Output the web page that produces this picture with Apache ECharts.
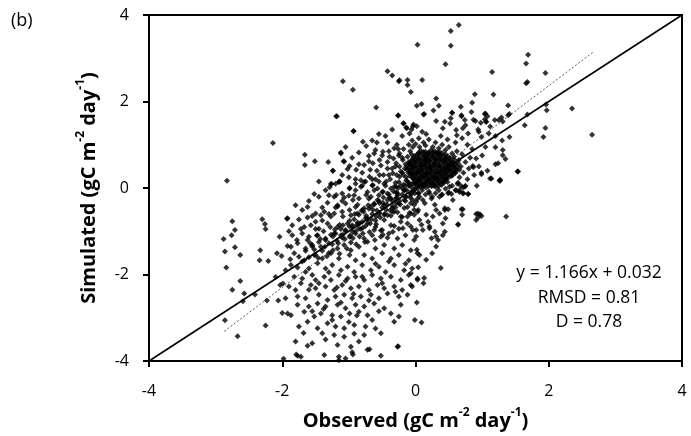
<!DOCTYPE html>
<html>
<head>
<meta charset="utf-8">
<script src="https://cdn.jsdelivr.net/npm/echarts@6/dist/echarts.min.js"></script>
<style>html,body{margin:0;padding:0;background:#fff;}#c{width:691px;height:436px;}</style>
</head>
<body>
<div id="c"></div>
<script>
// ---- axis ticks ----
var xTicks = [-4, -2, 0, 2, 4];
var yTicks = [-4, -2, 0, 2, 4];

// ---- reference lines ----
var oneToOne = [[-4, -4], [4, 4]];
var fitLine = [[-2.87, -3.314], [2.66, 3.134]];
var statsText = ['y = 1.166x + 0.032', 'RMSD = 0.81', 'D = 0.78'];

// ---- observed vs simulated points ----
var outliersTop = [
[-2.14,1.04],[-1.66,0.77],[-1.66,0.53],[-1.51,0.62],[-1.31,0.60],[-1.24,0.40],[-1.12,0.80],[-1.08,0.62],
[-1.18,1.66],[-1.09,2.47],[-0.94,2.27],[-0.93,1.31],[-0.59,1.86],[-0.42,2.70],[-0.35,2.60],[-0.25,2.47],
[-0.12,2.50],[-0.07,2.22],[-0.26,1.67],[0.02,1.90],[0.03,3.31],[-1.26,0.09],[-1.14,0.15],[-1.02,0.44],
[-0.18,1.50],[-0.14,1.40],[-0.06,1.35],[-0.03,1.47],[0.65,3.77],[0.53,3.63],[0.53,3.29],[0.45,2.86],
[0.10,2.50],[1.69,3.08],[1.66,2.88],[1.95,2.66],[1.68,2.45],[1.66,2.42],[1.15,2.68],[1.17,2.16],
[0.89,2.17],[1.39,1.91],[1.39,1.68],[1.68,1.70],[1.96,1.93],[1.97,1.80],[1.64,1.45],[1.95,1.39],
[1.92,1.18],[0.31,2.07],[0.35,1.90],[0.09,1.94],[0.12,1.70],[0.27,1.79],[0.44,1.53],[0.53,1.61],
[0.68,1.88],[0.85,1.97],[0.55,1.74],[0.69,1.68],[1.05,1.72],[1.08,1.66],[1.04,1.59],[0.98,1.51],
[1.06,1.53],[1.19,1.57],[1.25,1.57],[1.31,1.54],[1.31,0.76],[1.35,0.67],[1.53,0.38],[1.20,0.55],
[1.12,0.22],[1.27,0.19],[0.99,0.32],[0.87,0.48],[2.65,1.23],[2.35,1.84],[-0.24,2.49],[-0.12,2.38]
];
var outliersLeft = [
[-2.83,0.17],[-2.75,-0.77],[-2.71,-0.97],[-2.76,-1.09],[-2.88,-1.18],[-2.86,-1.47],[-2.71,-1.37],
[-2.63,-1.55],[-2.84,-1.84],[-2.63,-2.15],[-2.75,-2.35],[-2.57,-2.44],[-2.59,-2.62],[-2.41,-2.46],
[-2.86,-3.06],[-2.67,-3.43],[-2.30,-0.72],[-2.26,-0.83],[-2.25,-0.95],[-2.33,-1.44],[-2.34,-1.67],
[-2.21,-1.69],[-2.08,-1.51],[-2.01,-1.57],[-2.04,-1.13],[-1.93,-0.71],[-2.10,-2.06],[-2.03,-2.24],
[-1.99,-2.21],[-2.23,-2.60],[-2.06,-2.60],[-2.00,-2.89],[-2.25,-3.18],[-1.98,-3.95]
];
var lowerCloud = [
[-1.27,0.09],[-1.15,0.14],[-0.99,-0.01],[-0.9,0.10],[-0.82,0.03],[-0.77,0.14],[-0.72,-0.09],[-0.65,0.06],
[-0.57,-0.01],[-0.47,0.10],[-0.42,-0.13],[-0.32,0.03],[-0.25,0.14],[-0.17,-0.05],[-0.1,0.06],[-0.02,0.10],
[0.03,-0.01],[-1.52,-0.14],[-1.45,-0.20],[-1.3,-0.17],[-1.1,-0.13],[-0.92,-0.17],[-0.85,-0.24],[-0.67,-0.20],
[-0.55,-0.17],[-0.37,-0.24],[-0.27,-0.17],[-0.15,-0.20],[-0.07,-0.13],[-1.22,-0.20],
[-1.32,-0.34],[-1.17,-0.40],[-1.05,-0.36],[-0.9,-0.44],[-0.77,-0.47],[-0.62,-0.36],[-0.47,-0.40],[-0.35,-0.47],
[-0.25,-0.36],[-0.12,-0.44],[0.01,-0.32],[-1.7,-0.51],[-1.62,-0.44],[-1.5,-0.59],[-1.42,-0.63],[-1.37,-0.55],
[-1.22,-0.59],[-1.1,-0.55],[-0.97,-0.63],[-0.87,-0.59],[-0.75,-0.70],[-0.55,-0.59],[-0.42,-0.63],[-0.32,-0.55],
[-0.2,-0.67],[-0.07,-0.59],[0.03,-0.55],[-1.92,-0.70],[-1.75,-0.73],[-1.62,-0.68],[-1.5,-0.78],
[-1.85,-0.86],[-1.67,-0.90],[-1.57,-0.86],[-1.45,-0.94],[-1.32,-0.82],[-1.17,-0.90],[-1.05,-0.97],[-0.95,-0.86],
[-0.85,-0.94],[-0.72,-0.82],[-0.6,-0.90],[-0.5,-0.97],[-0.37,-0.86],[-0.25,-0.94],[-0.12,-0.82],[0.01,-0.97],
[-1.85,-1.09],[-1.7,-1.05],[-1.6,-1.13],[-1.47,-1.09],[-1.35,-1.17],[-1.22,-1.05],[-1.12,-1.09],[-0.99,-1.13],
[-0.9,-1.05],[-0.77,-1.17],[-0.65,-1.09],[-0.52,-1.13],[-0.4,-1.05],[-0.27,-1.17],[-0.15,-1.09],[-0.02,-1.20],
[-1.92,-1.34],[-1.87,-1.36],[-1.77,-1.28],[-1.65,-1.40],[-1.55,-1.32],[-1.42,-1.36],[-1.3,-1.28],[-1.17,-1.40],
[-1.07,-1.32],[-0.97,-1.44],[-0.85,-1.36],[-0.72,-1.24],[-0.6,-1.40],[-0.47,-1.32],[-0.32,-1.40],[-0.2,-1.32],
[-0.07,-1.44],[-1.82,-1.51],[-1.75,-1.59],[-1.67,-1.67],[-1.52,-1.55],[-1.4,-1.63],[-1.27,-1.51],[-1.15,-1.63],
[-0.99,-1.55],[-0.9,-1.67],[-0.77,-1.55],[-0.65,-1.63],[-0.5,-1.51],[-0.37,-1.63],[-0.25,-1.55],[-0.1,-1.67],
[0.03,-1.51],[-1.95,-1.90],[-1.87,-1.78],[-1.77,-1.84],[-1.65,-1.94],[-1.6,-1.86],[-1.47,-1.74],[-1.35,-1.86],
[-1.25,-1.78],[-1.12,-1.90],[-1.02,-1.82],[-0.92,-1.94],[-0.8,-1.78],[-0.67,-1.90],[-0.55,-1.82],[-0.45,-1.94],
[-0.32,-1.78],[-0.17,-1.90],[-0.05,-1.86],[-1.82,-2.05],[-1.7,-2.09],[-1.55,-2.01],[-1.5,-2.13],[-1.37,-2.05],
[-1.27,-2.13],[-1.15,-2.01],[-1.02,-2.09],[-0.9,-2.05],[-0.77,-2.13],[-0.65,-2.01],[-0.52,-2.09],[-0.37,-2.05],
[-0.22,-2.13],[-0.1,-2.01],[0.03,-2.09],[-1.9,-2.28],[-1.8,-2.36],[-1.57,-2.24],[-1.5,-2.32],[-1.35,-2.28],
[-1.22,-2.36],[-1.1,-2.24],[-0.97,-2.32],[-0.85,-2.28],[-0.7,-2.36],[-0.57,-2.24],[-0.47,-2.32],[-0.32,-2.28],
[-0.2,-2.36],[-0.07,-2.24],[-1.77,-2.51],[-1.65,-2.55],[-1.45,-2.47],[-1.32,-2.59],[-1.2,-2.51],[-1.07,-2.47],
[-0.95,-2.55],[-0.82,-2.51],[-0.67,-2.47],[-0.55,-2.55],[-0.42,-2.44],[-0.25,-2.51],[-0.12,-2.47],
[-1.77,-2.70],[-1.6,-2.74],[-1.47,-2.67],[-1.35,-2.74],[-1.17,-2.70],[-1.05,-2.78],[-0.9,-2.70],[-0.77,-2.74],
[-0.62,-2.67],[-0.47,-2.78],[-0.22,-2.70],[-1.92,-2.90],[-1.87,-2.94],[-1.67,-2.86],[-1.52,-2.97],[-1.42,-2.90],
[-1.25,-2.94],[-1.12,-2.97],[-0.99,-2.90],[-0.85,-2.86],[-0.72,-2.94],[-0.37,-2.90],[-0.25,-2.97],
[-1.75,-3.20],[-1.62,-3.09],[-1.47,-3.24],[-1.32,-3.13],[-1.2,-3.20],[-1.07,-3.24],[-0.92,-3.17],[-0.75,-3.20],
[-0.32,-3.09],[-1.4,-3.36],[-1.22,-3.40],[-1.07,-3.44],[-0.92,-3.37],[-0.77,-3.40],[-0.52,-3.36],
[-1.8,-3.55],[-1.62,-3.65],[-1.55,-3.59],[-1.17,-3.63],[-0.97,-3.67],[-0.72,-3.74],[-0.27,-3.67],
[-1.77,-3.88],[-1.72,-3.90],[-1.37,-3.86],[-1.15,-3.90],[-1.05,-3.94],[-0.95,-3.80],[-0.52,-3.88],[-1.15,-3.98],
[-1.79,-3.85],[-0.94,-3.85],[-0.69,-3.73],[-0.26,-3.66]
];
var lowerFill = [
[-1.45,-2.2],[-1.3,-1.95],[-1.18,-2.3],[-1.05,-2.15],[-0.93,-2.45],[-0.8,-2.05],[-0.7,-2.6],[-0.6,-1.75],
[-0.5,-2.2],[-0.4,-1.7],[-0.3,-2.4],[-0.15,-1.75],[-1.38,-2.8],[-1.25,-3.05],[-1.12,-2.65],[-1.0,-3.1],
[-0.88,-2.95],[-0.65,-3.05],[-0.55,-2.85],[-1.6,-2.35],[-1.72,-2.2],[-1.55,-2.85],[-1.68,-3.35],[-1.35,-3.5],
[-0.85,-3.55],[-0.6,-3.25],[-1.95,-2.55],[-1.88,-1.65],[-1.78,-1.2],[-1.62,-1.2],[-1.72,-0.95],[-1.55,-0.65],
[-1.4,-0.45],[-1.6,-0.3],[-1.35,-0.05],[-1.45,0.15],[-1.8,-0.4],[-1.9,-1.0]
];
var diagonalBand = [
[-1.25,-1.3],[-1.2,-1.05],[-1.18,-1.22],[-1.12,-0.95],[-1.1,-1.15],[-1.05,-1.0],[-1.02,-0.82],[-0.98,-1.1],
[-0.95,-0.9],[-0.92,-0.72],[-0.9,-1.0],[-0.88,-0.85],[-0.85,-0.62],[-0.82,-0.95],[-0.8,-0.78],[-0.78,-0.55],
[-0.75,-0.88],[-0.72,-0.7],[-0.7,-0.48],[-0.68,-0.82],[-0.65,-0.6],[-0.62,-0.38],[-0.6,-0.75],[-0.58,-0.52],
[-0.55,-0.3],[-0.53,-0.68],[-0.5,-0.45],[-0.48,-0.22],[-0.46,-0.6],[-0.43,-0.38],[-0.4,-0.15],[-0.38,-0.52],
[-0.35,-0.3],[-0.33,-0.08],[-0.3,-0.45],[-0.28,-0.22],[-0.26,0.0],[-0.23,-0.38],[-0.2,-0.15],[-0.18,0.08],
[-0.15,-0.3],[-0.13,-0.05],[-0.1,0.12],[-0.08,-0.22],[-0.06,0.02],[-0.03,0.2],[-0.01,-0.12],[0.02,0.08],
[-1.35,-1.2],[-1.4,-1.45],[-1.3,-1.5],[-1.45,-1.25],[-1.5,-1.55],[-1.55,-1.35],[-1.6,-1.6],[-1.65,-1.45],
[-1.7,-1.7],[-1.38,-1.0],[-1.28,-0.9],[-1.48,-1.1],
[-1.19,-0.16],[-1.07,-0.22],[-0.94,-0.28],[-1.17,-0.43],[-1.27,-0.66],[-1.09,-0.66],[-0.99,-0.51],[-0.87,-0.39],
[-0.74,-0.16],[-0.62,-0.05],[-0.49,-0.08],[-0.37,-0.01],[-0.27,-0.12],[-0.17,-0.05],[-0.07,-0.16],[0.04,-0.12],
[-0.79,-0.51],[-0.67,-0.43],[-0.54,-0.35],[-0.42,-0.28],[-0.29,-0.35],[-0.17,-0.28],[-0.02,-0.39],[0.11,-0.28],
[0.24,-0.24],[0.36,-0.20],[0.49,-0.12],[0.61,-0.05],[0.74,0.03],[-1.14,-0.85],[-0.99,-0.89],[-0.84,-0.82],
[-0.72,-0.74],[-0.59,-0.66],[-0.47,-0.62],[-0.34,-0.55],[-0.22,-0.66],[-0.09,-0.58],[0.04,-0.51],[0.16,-0.62],
[0.31,-0.51],[0.44,-0.47],[-1.24,-1.12],[-1.09,-1.08],[-0.94,-1.16],[-0.79,-1.05],[-0.62,-0.97],[-0.49,-1.08],
[-0.34,-1.01],[-0.19,-0.93],[-0.04,-0.97],[0.09,-0.85],[0.21,-0.93],[0.44,-1.01],[0.31,-1.12],[0.71,-0.49],
[0.91,-0.60],[0.99,-0.65],[1.36,-0.66],[0.64,-0.85],[0.91,-0.74]
];
var bandFill = [
[-1.58,-1.28],[-1.52,-1.42],[-1.46,-1.62],[-1.43,-1.18],[-1.36,-1.36],[-1.33,-1.58],[-1.27,-1.08],[-1.24,-1.44],
[-1.21,-0.96],[-1.16,-1.28],[-1.14,-1.52],[-1.09,-0.86],[-1.06,-1.18],[-1.03,-1.4],[-0.99,-0.76],[-0.97,-1.26],
[-0.94,-1.02],[-0.91,-0.6],[-0.89,-1.3],[-0.87,-0.8],[-0.84,-1.12],[-0.81,-0.52],[-0.79,-0.92],[-0.76,-1.25],
[-0.74,-0.64],[-0.71,-0.4],[-0.69,-1.02],[-0.66,-0.72],[-0.64,-0.5],[-0.61,-1.2],[-0.59,-0.84],[-0.57,-0.28],
[-0.54,-0.58],[-0.52,-0.98],[-0.49,-0.34],[-0.47,-0.74],[-0.44,-0.5],[-0.42,-1.15],[-0.39,-0.22],[-0.37,-0.64],
[-0.34,-0.42],[-0.32,-0.88],[-0.29,-0.1],[-0.27,-0.56],[-0.24,-0.3],[-0.22,-0.78],[-0.19,-0.02],[-0.17,-0.46],
[-0.14,-0.2],[-0.12,-0.66],[-0.09,0.06],[-0.07,-0.35],[-0.04,-0.08],[-0.02,-0.5],[0.01,0.02],[0.03,-0.25],
[-1.5,-0.95],[-1.4,-0.75],[-1.3,-0.6],[-1.2,-0.45],[-1.1,-0.3],[-1.0,-0.18],[-0.9,-0.05],[-0.8,0.05],
[-0.7,-0.25],[-0.6,0.2],[-0.5,-0.1],[-0.4,0.3],[-0.3,-0.25],[-0.2,0.35],[-0.15,0.05]
];
var upperLeft = [
[-1.19,1.66],[-0.26,1.68],[0.13,1.71],[0.55,1.74],[0.69,1.66],[0.74,1.57],[0.84,1.76],[0.87,1.58],[1.04,1.71],
[1.06,1.53],[1.29,1.63],[1.41,1.71],[-0.18,1.49],[-0.13,1.38],[-0.04,1.42],[0.02,1.43],[-0.09,1.26],[0.16,1.25],
[0.31,1.55],[0.41,1.38],[0.52,1.49],[0.61,1.34],[0.71,1.38],[0.79,1.26],[0.94,1.35],[0.99,1.18],[1.1,1.26],
[1.2,0.94],[1.31,0.88],[1.41,1.18],[1.24,0.57],[0.99,0.35],[1.14,0.22],[1.27,0.17],[1.54,0.38],[0.86,0.51],[0.91,0.68],
[-0.93,1.32],[-0.79,1.07],[-0.74,0.97],[-0.58,1.05],[-0.42,1.05],[-0.49,0.84],[-0.62,0.80],[-0.70,0.74],
[-0.85,0.82],[-1.12,0.82],[-1.07,0.61],[-0.99,0.51],[-1.24,0.40],[-0.89,0.42],[-0.77,0.53],[-0.64,0.57],
[-0.54,0.65],[-0.39,0.72],[-0.32,0.92],[-0.24,0.80],[-0.29,0.57],[-0.19,0.65],[-0.42,0.45],[-0.34,0.34],
[-0.54,0.30],[-0.69,0.26],[-0.82,0.18],[-1.14,0.15],[-1.29,0.02],[-0.99,0.0],[-0.64,0.07],[-0.44,0.15],
[-0.24,0.26],[-0.14,0.18],[-0.29,0.03],
[-0.9,0.2],[-0.85,0.55],[-0.8,0.35],[-0.75,0.15],[-0.7,0.62],[-0.68,0.42],[-0.65,0.2],[-0.6,0.88],[-0.58,0.4],
[-0.55,0.15],[-0.52,0.52],[-0.5,0.75],[-0.48,0.3],[-0.45,0.05],[-0.42,0.6],[-0.4,0.85],[-0.38,0.2],[-0.35,0.45],
[-0.33,0.68],[-0.3,0.12],[-0.28,0.3],[-0.26,0.9],[-0.24,0.5],[-0.22,0.05],[-0.2,0.7],[-0.18,0.3],[-0.16,0.45],
[-0.12,0.15],[-0.1,0.6],[-0.08,0.35],[-0.06,0.78],[-0.04,0.5],[-1.0,0.25],[-1.1,0.3],[-1.2,0.1],[-0.95,0.7],
[-1.05,0.95],[-0.65,1.1],[-0.55,1.25],[-0.45,1.2],[-0.35,1.35]
];
var coreHalo = [
[-0.3,0.5],[-0.25,0.75],[-0.22,0.38],[-0.18,0.9],[-0.15,0.55],[-0.14,0.25],[-0.12,0.72],[-0.1,1.0],[-0.08,0.85],
[-0.05,1.1],[-0.04,0.95],[0.0,1.02],[0.05,1.15],[0.06,0.95],[0.12,1.05],[0.15,0.98],[0.2,1.12],[0.26,0.95],
[0.3,1.05],[0.35,0.92],[0.4,1.0],[0.45,0.88],[0.5,0.95],[0.55,0.8],[0.58,0.72],[0.62,0.85],[0.65,0.65],
[0.68,0.5],[0.7,0.78],[0.72,0.35],[0.75,0.6],[0.78,0.2],[0.66,0.25],[0.63,0.1],[0.6,-0.05],[0.55,0.05],
[0.5,-0.1],[0.45,-0.02],[0.4,-0.15],[0.35,-0.05],[0.3,-0.12],[0.25,-0.2],[0.2,-0.08],[0.15,-0.15],[0.1,-0.05],
[0.05,-0.12],[-0.02,-0.05],[0.68,0.05],[0.72,-0.12],[0.8,0.45],[0.82,0.7],[0.85,0.9],[0.88,0.3],[0.92,0.05],
[0.95,0.5],[1.0,0.75],[1.05,0.95],[1.08,0.4],[-0.2,1.2],[-0.28,1.0],[0.1,1.3],[0.38,1.2],[0.48,1.12],[0.6,1.05],
[0.7,1.15],[0.78,1.0],[0.62,1.22],[0.75,1.45],[0.9,1.55],[0.95,1.3],[1.12,1.42],[1.2,1.2],[1.3,1.1]
];
var lowerRight = [
[-0.04,0.11],[0.11,0.03],[0.26,0.07],[0.41,0.12],[0.51,0.03],[0.64,0.12],[0.71,0.01],[0.79,-0.14],[0.66,-0.09],
[0.54,-0.14],[0.39,-0.16],[0.21,-0.12],[0.06,-0.20],[-0.04,-0.28],[0.14,-0.35],[0.29,-0.39],[0.44,-0.51],
[0.49,-0.49],[0.36,-0.59],[0.26,-0.66],[0.19,-0.78],[0.06,-0.74],[-0.02,-0.62],[-0.07,-0.89],[0.11,-0.97],
[0.21,-0.89],[0.29,-1.01],[0.41,-1.09],[0.34,-1.20],[0.24,-1.16],[0.01,-1.12],[0.31,-1.35],[0.25,-1.51],
[0.16,-1.66],[0.02,-1.43],[0.06,-1.55],[0.04,-1.83],[-0.07,-1.97],[0.38,-1.85],[0.13,-2.08],[0.12,-2.20],
[0.03,-2.12],[-0.05,-2.28],[0.02,-2.65],[-0.01,-3.05],[0.09,-3.11],[0.64,-0.84],[0.69,-0.49],[0.70,-0.62],
[0.94,-0.59],[0.97,-0.61],[0.94,-0.68],[1.26,0.17],[0.56,-0.28],[0.45,-0.70],[0.41,-0.82],[0.66,-0.05],
[0.71,-0.12],[0.75,0.05],[0.79,-0.14]
];
var coreCluster = [
[0.08,0.86],[0.15,0.84],[0.23,0.87],[0.29,0.85],[0.36,0.83],
[0.02,0.77],[0.1,0.79],[0.17,0.76],[0.25,0.78],[0.31,0.8],[0.38,0.76],[0.45,0.78],
[-0.03,0.7],[0.04,0.68],[0.12,0.71],[0.18,0.69],[0.26,0.72],[0.33,0.7],[0.39,0.67],[0.46,0.71],[0.52,0.69],
[-0.06,0.62],[0.01,0.6],[0.08,0.63],[0.15,0.61],[0.21,0.64],[0.28,0.6],[0.35,0.63],[0.42,0.61],[0.49,0.62],[0.55,0.6],
[-0.08,0.55],[-0.02,0.53],[0.05,0.56],[0.12,0.54],[0.19,0.57],[0.26,0.53],[0.33,0.55],[0.4,0.52],[0.47,0.56],[0.54,0.54],[0.6,0.55],
[-0.1,0.47],[-0.03,0.46],[0.04,0.48],[0.1,0.45],[0.17,0.49],[0.24,0.46],[0.31,0.48],[0.38,0.45],[0.45,0.47],[0.52,0.44],[0.58,0.48],
[-0.09,0.4],[-0.02,0.38],[0.06,0.41],[0.13,0.39],[0.2,0.42],[0.27,0.38],[0.34,0.4],[0.41,0.37],[0.48,0.41],[0.55,0.39],[0.62,0.42],
[-0.07,0.32],[0,0.31],[0.07,0.33],[0.14,0.3],[0.21,0.34],[0.28,0.31],[0.35,0.33],[0.42,0.29],[0.49,0.32],[0.56,0.3],
[-0.05,0.25],[0.02,0.23],[0.09,0.26],[0.16,0.24],[0.23,0.27],[0.3,0.23],[0.37,0.25],[0.44,0.22],[0.51,0.26],
[0,0.17],[0.07,0.15],[0.14,0.18],[0.21,0.16],[0.28,0.19],[0.35,0.15],[0.42,0.17],[0.48,0.14],
[0.04,0.1],[0.11,0.08],[0.18,0.11],[0.25,0.09],[0.32,0.1],[0.39,0.07],
[0.08,0.03],[0.16,0.01],[0.24,0.04],[0.31,0.02],
[0.05,0.8],[0.2,0.81],[0.34,0.79],[0.0,0.65],[0.14,0.66],[0.3,0.66],[0.44,0.65],[-0.04,0.5],[0.08,0.51],
[0.22,0.5],[0.36,0.5],[0.5,0.5],[0.03,0.36],[0.17,0.35],[0.31,0.36],[0.45,0.35],[0.59,0.35],[0.05,0.2],
[0.19,0.21],[0.33,0.2],[0.46,0.2],[0.13,0.05],[0.27,0.06]
];
var coreFill = [
[0.05,0.82],[0.12,0.83],[0.19,0.81],[0.26,0.83],[0.33,0.82],[0.4,0.81],
[-0.01,0.74],[0.07,0.73],[0.14,0.75],[0.21,0.74],[0.28,0.73],[0.35,0.75],[0.42,0.74],[0.49,0.73],
[-0.05,0.66],[0.04,0.67],[0.11,0.65],[0.18,0.66],[0.24,0.67],[0.31,0.65],[0.38,0.66],[0.45,0.67],[0.52,0.65],[0.58,0.66],
[-0.09,0.58],[-0.01,0.59],[0.08,0.57],[0.15,0.58],[0.22,0.59],[0.29,0.57],[0.37,0.58],[0.44,0.59],[0.51,0.57],[0.57,0.58],[0.64,0.57],
[-0.12,0.51],[-0.06,0.52],[0.01,0.5],[0.08,0.52],[0.14,0.51],[0.21,0.5],[0.28,0.52],[0.35,0.51],[0.43,0.5],[0.49,0.52],[0.56,0.51],[0.63,0.5],
[-0.13,0.43],[-0.06,0.44],[0.02,0.42],[0.09,0.43],[0.16,0.44],[0.23,0.42],[0.3,0.43],[0.37,0.44],[0.44,0.42],[0.51,0.43],[0.59,0.44],[0.66,0.42],
[-0.11,0.36],[-0.04,0.35],[0.03,0.37],[0.1,0.36],[0.17,0.34],[0.24,0.36],[0.31,0.37],[0.38,0.35],[0.46,0.36],[0.53,0.37],[0.6,0.35],
[-0.08,0.28],[-0.01,0.29],[0.06,0.27],[0.12,0.28],[0.19,0.29],[0.26,0.27],[0.33,0.28],[0.4,0.29],[0.47,0.27],[0.54,0.28],
[-0.03,0.21],[0.04,0.2],[0.11,0.22],[0.18,0.21],[0.25,0.2],[0.32,0.22],[0.39,0.21],[0.46,0.2],
[0.01,0.13],[0.08,0.14],[0.15,0.12],[0.22,0.13],[0.29,0.14],[0.36,0.12],[0.43,0.13],
[0.05,0.06],[0.13,0.07],[0.2,0.05],[0.28,0.06],[0.35,0.05]
];

var allPoints = [].concat(outliersTop, outliersLeft, lowerCloud, lowerFill, diagonalBand, bandFill,
  upperLeft, coreHalo, lowerRight, coreCluster, coreFill);

var FONT = 'Open Sans';
var chart = echarts.init(document.getElementById('c'), null, {renderer: 'canvas'});
var titleRich = {
  b: {fontSize: 20, fontWeight: 'bold', fontFamily: FONT, color: '#000', lineHeight: 24, verticalAlign: 'bottom'},
  s: {fontSize: 12, fontWeight: 'bold', fontFamily: FONT, color: '#000', lineHeight: 12, verticalAlign: 'top'}
};
chart.setOption({
  animation: false,
  backgroundColor: '#fff',
  title: {text: '(b)', left: 6, top: 7, textStyle: {fontSize: 18, fontWeight: 'normal', fontFamily: FONT, color: '#000'}},
  grid: {left: 149, right: 9, top: 15, bottom: 74, show: true, borderColor: '#000', borderWidth: 2, backgroundColor: 'transparent'},
  xAxis: {
    type: 'value', min: xTicks[0], max: xTicks[xTicks.length - 1], interval: 2,
    axisLine: {onZero: false, lineStyle: {color: '#000', width: 2}},
    axisTick: {show: true, inside: false, length: 6, lineStyle: {color: '#000', width: 2}},
    axisLabel: {fontSize: 16, fontFamily: FONT, color: '#000', margin: 22},
    splitLine: {show: false},
    name: '{b|Observed (gC m}{s|-2}{b| day}{s|-1}{b|)}',
    nameLocation: 'middle', nameGap: 46,
    nameTextStyle: {rich: titleRich}
  },
  yAxis: {
    type: 'value', min: yTicks[0], max: yTicks[yTicks.length - 1], interval: 2,
    axisLine: {onZero: false, lineStyle: {color: '#000', width: 2}},
    axisTick: {show: true, inside: false, length: 6, lineStyle: {color: '#000', width: 2}},
    axisLabel: {fontSize: 16, fontFamily: FONT, color: '#000', margin: 20},
    splitLine: {show: false},
    name: '{b|Simulated (gC m}{s|-2}{b| day}{s|-1}{b|)}',
    nameLocation: 'middle', nameGap: 50,
    nameTextStyle: {rich: titleRich}
  },
  graphic: [
    {type: 'text', x: 589, y: 273, style: {text: statsText[0], fontSize: 17.5, fontFamily: FONT, fill: '#000', textAlign: 'center', textVerticalAlign: 'middle'}},
    {type: 'text', x: 589, y: 298, style: {text: statsText[1], fontSize: 17.5, fontFamily: FONT, fill: '#000', textAlign: 'center', textVerticalAlign: 'middle'}},
    {type: 'text', x: 589, y: 322, style: {text: statsText[2], fontSize: 17.5, fontFamily: FONT, fill: '#000', textAlign: 'center', textVerticalAlign: 'middle'}}
  ],
  series: [
    {type: 'scatter', data: allPoints, symbol: 'diamond', symbolSize: 6, itemStyle: {color: '#000'}, silent: true, z: 2},
    {type: 'line', data: oneToOne, symbol: 'none', lineStyle: {color: '#000', width: 1.6}, silent: true, z: 3},
    {type: 'line', data: fitLine, symbol: 'none', lineStyle: {color: '#333', width: 0.8, type: [2, 2]}, silent: true, z: 3}
  ]
});
</script>
</body>
</html>
